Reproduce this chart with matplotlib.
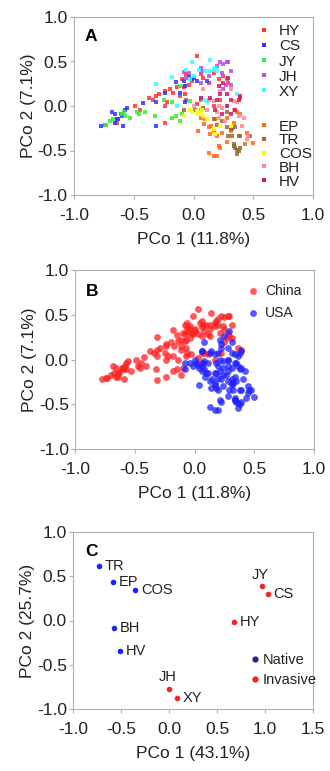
import matplotlib
matplotlib.use("Agg")
import matplotlib.pyplot as plt
from matplotlib.lines import Line2D

plt.rcParams['font.family'] = ['Liberation Sans', 'DejaVu Sans']

# ---- panel A/B: individual samples per population (PCo1, PCo2) ----
HY_x = [0.03, -0.37, -0.34, -0.31, -0.29, -0.24, -0.20, -0.17, -0.22, -0.24, -0.24, -0.49, -0.45,
        -0.61, -0.74, -0.64, -0.11, -0.10, -0.06, -0.04, -0.01, 0.06, 0.08, 0.13, 0.17, 0.21,
        0.25, 0.29, -0.08, -0.07, -0.14, 0.22, 0.06, 0.17, 0.39, -0.06, 0.03]
HY_y = [0.56, 0.09, 0.07, 0.11, 0.13, 0.17, 0.19, 0.15, 0.04, 0.00, -0.19, 0.00, -0.04,
        -0.09, -0.21, -0.19, 0.11, 0.30, 0.36, 0.24, 0.28, 0.36, 0.32, 0.26, 0.37, 0.30,
        0.34, 0.26, 0.21, 0.13, 0.21, 0.07, 0.07, 0.00, 0.09, 0.07, 0.02]
CS_x = [-0.77, -0.68, -0.66, -0.63, -0.60, -0.57, -0.56, -0.59, -0.64, -0.42, -0.31, -0.31,
        -0.24, -0.15, -0.08, -0.07, -0.04, -0.01, 0.00, -0.07, -0.11, 0.03, 0.11, -0.66]
CS_y = [-0.22, -0.07, -0.09, -0.15, -0.11, -0.04, -0.02, -0.22, -0.15, 0.03, -0.23, 0.04,
        0.15, 0.27, 0.28, 0.22, 0.34, 0.30, 0.32, 0.04, 0.15, 0.28, 0.28, -0.19]
JY_x = [-0.73, -0.70, -0.67, -0.60, -0.57, -0.53, -0.47, -0.46, -0.41, -0.32, -0.25, -0.18,
        -0.15, -0.11, -0.10, -0.11, -0.03, -0.18, 0.06, -0.58]
JY_y = [-0.21, -0.17, -0.15, -0.09, -0.11, -0.13, -0.07, -0.09, -0.07, -0.11, 0.07, -0.13,
        -0.11, -0.17, -0.09, 0.22, 0.06, 0.04, -0.04, -0.07]
JH_x = [-0.08, -0.04, 0.06, 0.07, 0.22, 0.25, 0.28, 0.29, 0.24, 0.27, 0.28, 0.31, 0.25,
        0.13, 0.20, 0.31, -0.06, 0.06]
JH_y = [0.38, 0.37, 0.43, 0.39, 0.49, 0.47, 0.49, 0.49, 0.37, 0.24, 0.30, 0.24, 0.19,
        0.34, 0.45, 0.39, 0.32, 0.26]
XY_x = [-0.01, 0.05, 0.14, 0.10, 0.13, 0.17, 0.18, -0.31, -0.18, 0.00, -0.03, -0.14, 0.11,
        0.36, 0.20, 0.08, -0.06]
XY_y = [0.49, 0.41, 0.52, 0.39, 0.39, 0.41, 0.43, 0.25, 0.33, 0.34, 0.30, 0.00, 0.06,
        0.13, 0.39, 0.07, 0.41]
EP_x = [0.04, 0.10, 0.13, 0.15, 0.17, 0.14, 0.20, 0.21, 0.13, 0.20, 0.17, 0.28, 0.31, 0.34,
        0.36, 0.39, 0.45, 0.43, 0.50, 0.28, 0.18, 0.06, 0.34, 0.22, 0.09, 0.24]
EP_y = [-0.28, -0.15, -0.24, -0.22, -0.28, -0.32, -0.34, -0.45, -0.53, -0.56, -0.56, -0.41,
        -0.28, -0.19, -0.07, -0.09, -0.30, -0.43, -0.42, -0.13, -0.15, -0.13, -0.45, -0.47,
        -0.20, -0.30]
TR_x = [-0.08, 0.01, 0.08, 0.28, 0.24, 0.28, 0.31, 0.35, 0.29, 0.32, 0.34, 0.35, 0.36, 0.38,
        0.39, 0.36, 0.34, 0.38, 0.39, 0.47, 0.20, 0.17, 0.32]
TR_y = [-0.04, -0.04, -0.02, -0.07, -0.17, -0.24, -0.26, -0.24, -0.34, -0.34, -0.45, -0.47,
        -0.49, -0.50, -0.47, -0.54, -0.43, -0.34, -0.34, -0.34, -0.21, -0.15, -0.26]
COS_x = [-0.08, 0.03, 0.04, 0.07, 0.08, 0.11, 0.17, 0.18, 0.22, 0.31, 0.06, -0.01, -0.04]
COS_y = [-0.11, -0.06, -0.09, -0.04, -0.11, -0.15, -0.26, -0.32, -0.22, -0.22, -0.07, -0.07, -0.04]
BH_x = [0.06, 0.13, 0.17, 0.21, 0.24, 0.28, 0.34, 0.38, 0.42, 0.41, 0.46, 0.45, 0.22, 0.31,
        0.34, 0.11, 0.21, 0.26, 0.20, 0.00, 0.36, 0.08]
BH_y = [0.09, 0.07, 0.06, 0.00, -0.02, 0.00, -0.04, -0.11, -0.13, -0.22, -0.34, -0.37, 0.17,
        0.19, 0.06, -0.04, -0.13, -0.17, -0.07, 0.00, 0.04, 0.19]
HV_x = [0.06, 0.14, 0.20, 0.22, 0.28, 0.31, 0.39, 0.38, 0.31, 0.28, 0.29, 0.25, 0.21, 0.35,
        0.18, 0.24]
HV_y = [0.09, 0.09, 0.07, 0.13, 0.13, 0.07, 0.11, 0.07, -0.09, 0.00, 0.32, 0.26, 0.22, -0.04,
        -0.04, -0.09]

china = ["HY", "CS", "JY", "JH", "XY"]
usa = ["EP", "TR", "COS", "BH", "HV"]
pops = {"HY": (HY_x, HY_y), "CS": (CS_x, CS_y), "JY": (JY_x, JY_y), "JH": (JH_x, JH_y),
        "XY": (XY_x, XY_y), "EP": (EP_x, EP_y), "TR": (TR_x, TR_y), "COS": (COS_x, COS_y),
        "BH": (BH_x, BH_y), "HV": (HV_x, HV_y)}
pop_colors = {"HY": "#ff3333", "CS": "#3333ff", "JY": "#33ee33", "JH": "#b84ce8",
              "XY": "#33ffff", "EP": "#ff6a10", "TR": "#9a6a2e", "COS": "#ffff00",
              "BH": "#ff8c8c", "HV": "#cc1a6a"}

# ---- panel C: population centroids ----
c_names = ["TR", "EP", "COS", "BH", "HV", "JY", "CS", "HY", "JH", "XY"]
c_x = [-0.73, -0.58, -0.35, -0.57, -0.51, 0.97, 1.03, 0.68, 0.00, 0.08]
c_y = [0.62, 0.44, 0.35, -0.08, -0.34, 0.39, 0.30, -0.02, -0.77, -0.88]
c_native = [True, True, True, True, True, False, False, False, False, False]

W, H = 330, 771
FS = 12.5
fig = plt.figure(figsize=(W / 100, H / 100), dpi=100)


def style(ax, xlim, xticks, xlabel, ylabel):
    ax.set_xlim(xlim)
    ax.set_ylim(-1.0, 1.0)
    ax.set_xticks(xticks)
    ax.set_yticks([-1.0, -0.5, 0.0, 0.5, 1.0])
    ax.xaxis.set_major_formatter(matplotlib.ticker.FormatStrFormatter('%.1f'))
    ax.yaxis.set_major_formatter(matplotlib.ticker.FormatStrFormatter('%.1f'))
    for s in ax.spines.values():
        s.set_color("#b0b0b0")
        s.set_linewidth(0.8)
    ax.tick_params(direction="out", length=3, width=0.8, color="#b0b0b0",
                   labelsize=FS, labelcolor="#222222")
    ax.tick_params(axis="x", pad=6.5)
    ax.tick_params(axis="y", pad=1.5)
    ax.set_xlabel(xlabel, fontsize=FS, color="#222222", labelpad=6.5)
    ax.set_ylabel(ylabel, fontsize=FS, color="#222222", labelpad=1)


def ax_rect(left, top, right, bottom):
    return fig.add_axes([left / W, 1 - bottom / H, (right - left) / W, (bottom - top) / H])


# Panel A
axA = ax_rect(74, 17, 313, 195)
for p in china + usa:
    x, y = pops[p]
    axA.scatter(x, y, s=10, marker="s", color=pop_colors[p], alpha=0.85, linewidths=0,
                zorder=3)
style(axA, (-1.0, 1.0), [-1.0, -0.5, 0.0, 0.5, 1.0], "PCo 1 (11.8%)", "PCo 2 (7.1%)")
axA.text(0.045, 0.89, "A", transform=axA.transAxes, fontsize=12.5, fontweight="bold",
         va="center")
hA1 = [Line2D([], [], ls="", marker="s", ms=3.2, color=pop_colors[p], mew=0) for p in china]
hA2 = [Line2D([], [], ls="", marker="s", ms=3.2, color=pop_colors[p], mew=0) for p in usa]
legA1 = axA.legend(hA1, china, loc="upper left", bbox_to_anchor=(0.74, 1.01), frameon=False,
                   fontsize=11, handlelength=0.5, handletextpad=0.75, labelspacing=0.07,
                   borderaxespad=0.2, labelcolor="#222222")
axA.add_artist(legA1)
axA.legend(hA2, usa, loc="lower left", bbox_to_anchor=(0.74, -0.015), frameon=False,
           fontsize=11, handlelength=0.5, handletextpad=0.75, labelspacing=-0.02,
           borderaxespad=0.2, labelcolor="#222222")

# Panel B
axB = ax_rect(75, 270, 314, 449)
for grp, col, lab in [(china, "#ff2020", "China"), (usa, "#2020ff", "USA")]:
    xs = [v for p in grp for v in pops[p][0]]
    ys = [v for p in grp for v in pops[p][1]]
    axB.scatter(xs, ys, s=24, color=col, alpha=0.75, linewidths=0, label=lab, zorder=3)
style(axB, (-1.0, 1.0), [-1.0, -0.5, 0.0, 0.5, 1.0], "PCo 1 (11.8%)", "PCo 2 (7.1%)")
axB.text(0.045, 0.88, "B", transform=axB.transAxes, fontsize=12.5, fontweight="bold",
         va="center")
axB.legend(loc="upper left", bbox_to_anchor=(0.665, 1.0), frameon=False, fontsize=10,
           handlelength=0.8, handletextpad=0.45, labelspacing=0.55, markerscale=1.0,
           borderaxespad=0.6, labelcolor="#222222")

# Panel C
axC = ax_rect(73, 532, 313, 709)
for name, x, y, nat in zip(c_names, c_x, c_y, c_native):
    axC.scatter([x], [y], s=16, color="#1f1fff" if nat else "#ff1f1f", linewidths=0, zorder=3)
    if name in ("JY", "JH"):
        axC.annotate(name, (x, y), xytext=(-1, 3), textcoords="offset points",
                     ha="center", va="bottom", fontsize=10.5, color="#222222")
    else:
        axC.annotate(name, (x, y), xytext=(4, 0), textcoords="offset points",
                     ha="left", va="center", fontsize=10.5, color="#222222")
style(axC, (-1.0, 1.5), [-1.0, -0.5, 0.0, 0.5, 1.0, 1.5], "PCo 1 (43.1%)", "PCo 2 (25.7%)")
axC.text(0.05, 0.89, "C", transform=axC.transAxes, fontsize=12.5, fontweight="bold",
         va="center")
hC = [Line2D([], [], ls="", marker="o", ms=4.5, color="#22229a", mew=0),
      Line2D([], [], ls="", marker="o", ms=4.5, color="#ff1f1f", mew=0)]
axC.legend(hC, ["Native", "Invasive"], loc="lower left", bbox_to_anchor=(0.72, 0.09),
           frameon=False, fontsize=10.5, handlelength=0.5, handletextpad=0.25,
           labelspacing=0.45, borderaxespad=0, labelcolor="#222222")

fig.savefig("out.png", dpi=100)
